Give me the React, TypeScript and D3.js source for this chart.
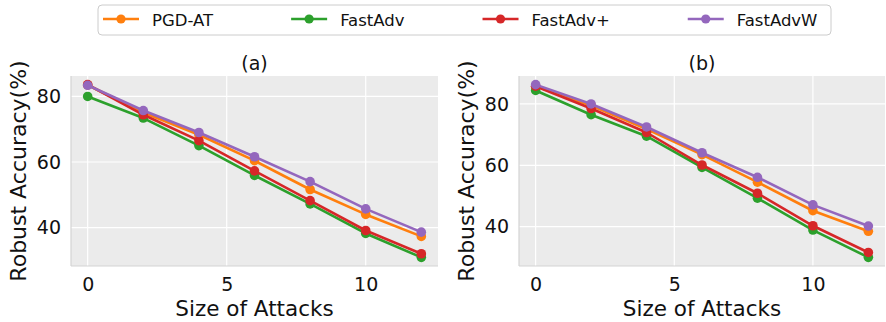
import React, { useEffect, useRef } from 'react'
import { axisBottom, axisLeft, extent, line, scaleLinear, select } from 'd3'

// x values (size of attacks)
const attackSizes = [0, 2, 4, 6, 8, 10, 12]
const seriesNames = ['PGD-AT', 'FastAdv', 'FastAdv+', 'FastAdvW']
const panelTitles = ['(a)', '(b)']
const xTicks = [0, 5, 10]
const yTicks = [40, 60, 80]

// panel (a)
const pgdA = [83.5, 75.1, 68.3, 60.4, 51.6, 44.0, 37.3]
const fastA = [80.0, 73.4, 65.0, 55.9, 47.2, 38.2, 30.9]
const fastPlusA = [83.6, 74.4, 66.5, 57.3, 48.2, 39.1, 32.0]
const fastWA = [83.4, 75.7, 69.0, 61.6, 54.0, 45.7, 38.6]

// panel (b)
const pgdB = [85.8, 79.5, 71.8, 63.5, 54.5, 45.2, 38.5]
const fastB = [84.4, 76.5, 69.5, 59.3, 49.3, 38.9, 30.0]
const fastPlusB = [85.8, 78.5, 70.7, 60.1, 50.9, 40.3, 31.6]
const fastWB = [86.3, 80.0, 72.5, 64.1, 56.1, 47.1, 40.2]

const colors = ['#ff7f0e', '#2ca02c', '#d62728', '#9467bd']
const FONT = 'DejaVu Sans, sans-serif'

const W = 886
const H = 322

// plot boxes for each panel
const panels = [
    { left: 71, right: 438, top: 76, bottom: 266, series: [pgdA, fastA, fastPlusA, fastWA] },
    { left: 519, right: 885, top: 76, bottom: 266, series: [pgdB, fastB, fastPlusB, fastWB] },
]

// matplotlib style 5% padding
const pad = (lo: number, hi: number) => {
    const m = (hi - lo) * 0.05
    return [lo - m, hi + m]
}

const App = () => {
    const svgRef = useRef<SVGSVGElement>(null)

    useEffect(() => {
        const svg = select(svgRef.current)
        svg.selectAll('*').remove()

        panels.forEach((p, pi) => {
            const all = p.series.flat()
            const [ylo, yhi] = extent(all) as [number, number]
            const [xlo, xhi] = extent(attackSizes) as [number, number]

            const x = scaleLinear().domain(pad(xlo, xhi)).range([p.left, p.right])
            const y = scaleLinear().domain(pad(ylo, yhi)).range([p.bottom, p.top])

            const g = svg.append('g')

            g.append('rect')
                .attr('x', p.left)
                .attr('y', p.top)
                .attr('width', p.right - p.left)
                .attr('height', p.bottom - p.top)
                .attr('fill', '#ebebeb')

            // grid
            g.selectAll('.vgrid')
                .data(xTicks)
                .join('line')
                .attr('x1', d => x(d)).attr('x2', d => x(d))
                .attr('y1', p.top).attr('y2', p.bottom)
                .attr('stroke', '#ffffff').attr('stroke-width', 1.2)
            g.selectAll('.hgrid')
                .data(yTicks)
                .join('line')
                .attr('y1', d => y(d)).attr('y2', d => y(d))
                .attr('x1', p.left).attr('x2', p.right)
                .attr('stroke', '#ffffff').attr('stroke-width', 1.2)

            // spines
            g.append('line')
                .attr('x1', p.left).attr('x2', p.left)
                .attr('y1', p.top).attr('y2', p.bottom)
                .attr('stroke', '#d4d4d4').attr('stroke-width', 1.2)
            g.append('line')
                .attr('x1', p.left).attr('x2', p.right)
                .attr('y1', p.bottom).attr('y2', p.bottom)
                .attr('stroke', '#d4d4d4').attr('stroke-width', 1.2)

            // axes
            const xAxis = axisBottom(x).tickValues(xTicks).tickSize(0).tickPadding(12)
            const yAxis = axisLeft(y).tickValues(yTicks).tickSize(0).tickPadding(10)

            const gx = g.append('g').attr('transform', `translate(0,${p.bottom})`).call(xAxis)
            const gy = g.append('g').attr('transform', `translate(${p.left},0)`).call(yAxis)
            ;[gx, gy].forEach(a => {
                a.select('.domain').remove()
                a.selectAll('text')
                    .attr('font-family', FONT)
                    .attr('font-size', 19)
                    .attr('fill', '#111')
            })

            // series
            const lineGen = line<number>()
                .x((_, i) => x(attackSizes[i]))
                .y(v => y(v))

            p.series.forEach((vals, si) => {
                g.append('path')
                    .attr('d', lineGen(vals))
                    .attr('fill', 'none')
                    .attr('stroke', colors[si])
                    .attr('stroke-width', 2.6)
                    .attr('stroke-linejoin', 'round')
                g.selectAll(`.pt${si}`)
                    .data(vals)
                    .join('circle')
                    .attr('cx', (_, i) => x(attackSizes[i]))
                    .attr('cy', v => y(v))
                    .attr('r', 4.8)
                    .attr('fill', colors[si])
            })

            // titles and labels
            const cx = (p.left + p.right) / 2
            g.append('text')
                .attr('x', cx).attr('y', 70)
                .attr('text-anchor', 'middle')
                .attr('font-family', FONT).attr('font-size', 19)
                .attr('fill', '#111')
                .text(panelTitles[pi])
            g.append('text')
                .attr('x', cx).attr('y', 316)
                .attr('text-anchor', 'middle')
                .attr('font-family', FONT).attr('font-size', 21.5)
                .attr('fill', '#111')
                .text('Size of Attacks')
            g.append('text')
                .attr('transform', `translate(${p.left - 45},${(p.top + p.bottom) / 2}) rotate(-90)`)
                .attr('text-anchor', 'middle')
                .attr('font-family', FONT).attr('font-size', 22)
                .attr('fill', '#111')
                .text('Robust Accuracy(%)')
        })

        // legend
        const lg = svg.append('g')
        lg.append('rect')
            .attr('x', 98).attr('y', 5)
            .attr('width', 733).attr('height', 30)
            .attr('rx', 4)
            .attr('fill', '#fff')
            .attr('stroke', '#cccccc')
            .attr('stroke-width', 1)

        let cursor = 103
        seriesNames.forEach((name, i) => {
            lg.append('line')
                .attr('x1', cursor).attr('x2', cursor + 36)
                .attr('y1', 19).attr('y2', 19)
                .attr('stroke', colors[i]).attr('stroke-width', 2.6)
            lg.append('circle')
                .attr('cx', cursor + 18).attr('cy', 19)
                .attr('r', 4.6).attr('fill', colors[i])
            const t = lg.append('text')
                .attr('x', cursor + 49).attr('y', 25.5)
                .attr('font-family', FONT).attr('font-size', 16.5)
                .attr('fill', '#111')
                .text(name)
            const len = (t.node() as SVGTextElement).getComputedTextLength()
            cursor = cursor + 49 + len + 78
        })
    }, [])

    return (
        <svg ref={svgRef} width={W} height={H}
            style={{ position: 'absolute', left: 0, top: 0, background: '#fff' }} />
    )
}

export default App
